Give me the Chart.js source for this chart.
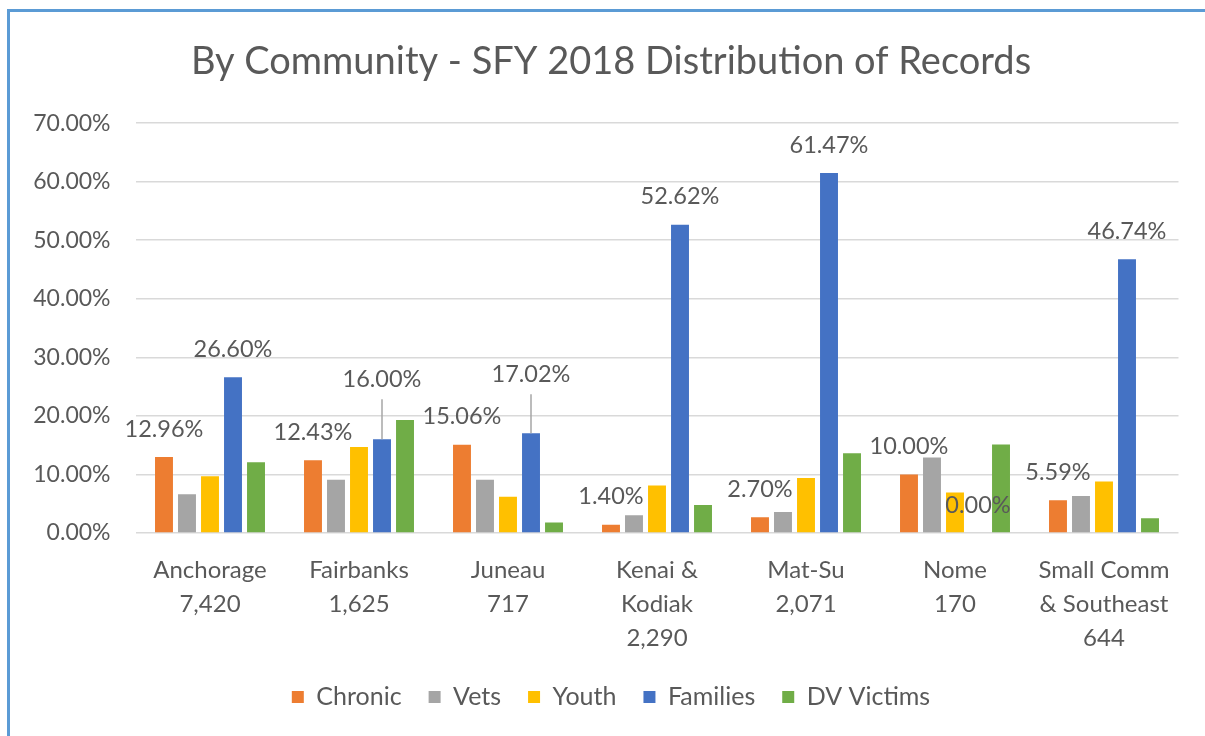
<!DOCTYPE html>
<html>
<head>
<meta charset="utf-8">
<script src="https://cdn.jsdelivr.net/npm/chart.js@4/dist/chart.umd.min.js"></script>
<style>
  html, body { margin: 0; padding: 0; background: #ffffff; }
  #wrap { width: 1205px; height: 736px; position: relative; }
</style>
</head>
<body>
<div id="wrap"><canvas id="c" width="1205" height="736"></canvas></div>
<script>
// ---- data ----
const categories = [
  ['Anchorage', '7,420'],
  ['Fairbanks', '1,625'],
  ['Juneau', '717'],
  ['Kenai &', 'Kodiak', '2,290'],
  ['Mat-Su', '2,071'],
  ['Nome', '170'],
  ['Small Comm', '& Southeast', '644']
];
const seriesNames = ['Chronic', 'Vets', 'Youth', 'Families', 'DV Victims'];
const chronic  = [12.96, 12.43, 15.06, 1.40, 2.70, 10.00, 5.59];
const vets     = [6.6, 9.1, 9.1, 3.05, 3.6, 12.9, 6.3];
const youth    = [9.7, 14.7, 6.2, 8.1, 9.4, 6.9, 8.8];
const families = [26.60, 16.00, 17.02, 52.62, 61.47, 0.00, 46.74];
const dvVictims = [12.1, 19.3, 1.8, 4.8, 13.6, 15.1, 2.5];
const yTicks = [0, 10, 20, 30, 40, 50, 60, 70];

// ---- styles ----
const colors = ['#ED7D31', '#A5A5A5', '#FFC000', '#4472C4', '#70AD47'];
const textColor = '#595959';
const fontFamily = 'Lato, "Open Sans", sans-serif';
const labelledSeries = [0, 3];                 // series that show data labels
const labelLift = 28;                          // label distance above bar top
const familiesLift = [28, 60, 59, 28, 28, 28, 28];

const allSeries = [chronic, vets, youth, families, dvVictims];

const borderPlugin = {
  id: 'frame',
  beforeDraw(chart) {
    const ctx = chart.ctx;
    ctx.save();
    ctx.fillStyle = '#ffffff';
    ctx.fillRect(0, 0, chart.width, chart.height);
    ctx.strokeStyle = '#5B9BD5';
    ctx.lineWidth = 3;
    ctx.beginPath();
    ctx.moveTo(8.5, chart.height);
    ctx.lineTo(8.5, 10.5);
    ctx.lineTo(chart.width, 10.5);
    ctx.stroke();
    ctx.restore();
  }
};

const labelPlugin = {
  id: 'valueLabels',
  afterDatasetsDraw(chart) {
    const ctx = chart.ctx;
    ctx.save();
    ctx.font = '23.5px ' + fontFamily;
    ctx.fillStyle = textColor;
    ctx.textAlign = 'center';
    ctx.textBaseline = 'middle';
    labelledSeries.forEach(di => {
      const meta = chart.getDatasetMeta(di);
      meta.data.forEach((bar, i) => {
        const lift = di === 3 ? familiesLift[i] : labelLift;
        const ty = bar.y - lift;
        ctx.fillText(chart.data.datasets[di].data[i].toFixed(2) + '%', bar.x, ty);
        if (lift > 40) {
          ctx.strokeStyle = '#A6A6A6';
          ctx.lineWidth = 1.5;
          ctx.beginPath();
          ctx.moveTo(bar.x, ty + 20);
          ctx.lineTo(bar.x, bar.y);
          ctx.stroke();
        }
      });
    });
    ctx.restore();
  }
};

new Chart(document.getElementById('c'), {
  type: 'bar',
  data: {
    labels: categories,
    datasets: seriesNames.map((name, k) => ({
      label: name,
      data: allSeries[k],
      backgroundColor: colors[k],
      borderWidth: 0,
      categoryPercentage: 0.772,
      barPercentage: 0.78
    }))
  },
  options: {
    responsive: false,
    animation: false,
    devicePixelRatio: 1,
    layout: { padding: { left: 30, right: 13, top: 0, bottom: 16.5 } },
    plugins: {
      title: {
        display: true,
        text: 'By Community - SFY 2018 Distribution of Records',
        color: textColor,
        font: { family: fontFamily, size: 38, weight: 'normal', lineHeight: 1.2 },
        padding: { top: 39, bottom: 38.5 }
      },
      legend: {
        position: 'bottom',
        labels: {
          color: textColor,
          font: { family: fontFamily, size: 25 },
          boxWidth: 12,
          boxHeight: 12,
          padding: 27
        }
      },
      tooltip: { enabled: false }
    },
    scales: {
      x: {
        afterFit(scale) { scale.height = 124.5; },
        grid: { display: false, drawTicks: false },
        border: { display: false },
        ticks: {
          color: textColor,
          font: { family: fontFamily, size: 24, lineHeight: 1.417 },
          padding: 20,
          maxRotation: 0,
          autoSkip: false
        }
      },
      y: {
        min: 0,
        max: 70,
        afterFit(scale) { scale.width = 105.5; },
        afterBuildTicks(scale) { scale.ticks = yTicks.map(v => ({ value: v })); },
        grid: { color: '#D9D9D9', lineWidth: 1.5, drawTicks: false },
        border: { display: false },
        ticks: {
          color: textColor,
          font: { family: fontFamily, size: 23 },
          padding: 25,
          callback: v => v.toFixed(2) + '%'
        }
      },
      spacer: {
        type: 'linear',
        position: 'right',
        display: true,
        min: 0,
        max: 70,
        afterFit(scale) { scale.width = 13.5; },
        grid: { display: false, drawTicks: false },
        border: { display: false },
        ticks: { display: false }
      }
    }
  },
  plugins: [borderPlugin, labelPlugin]
});
</script>
</body>
</html>
